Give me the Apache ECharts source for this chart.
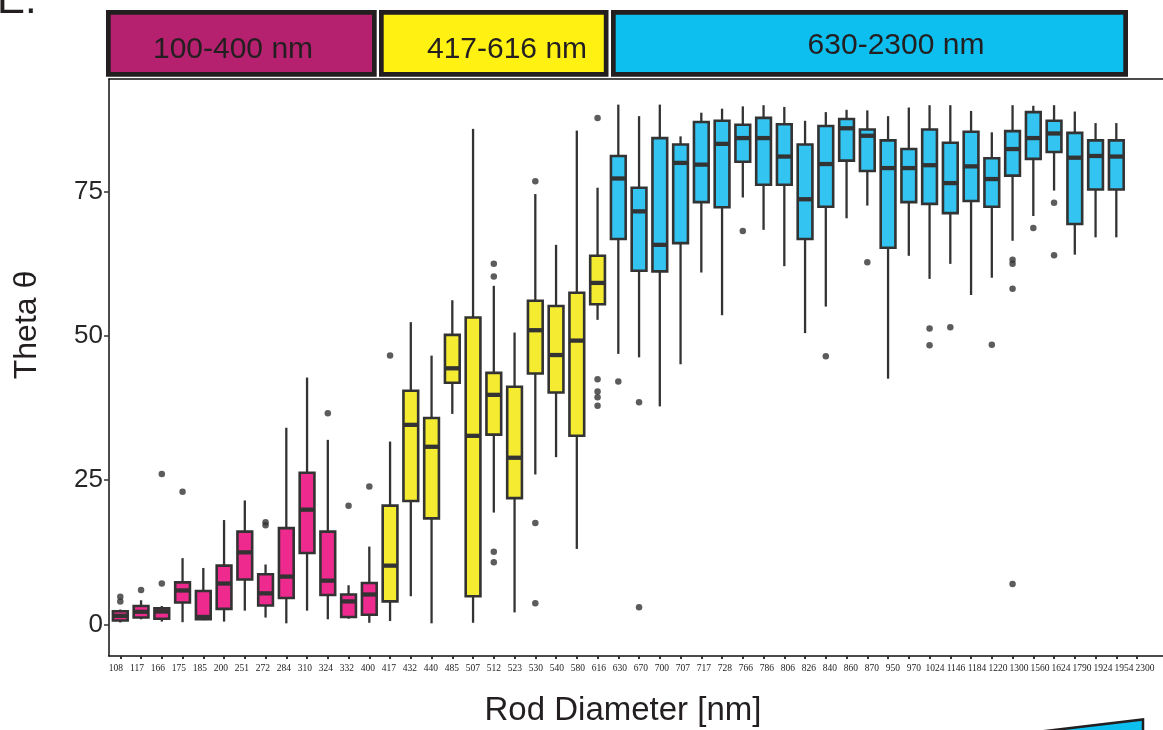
<!DOCTYPE html>
<html>
<head>
<meta charset="utf-8">
<script src="https://cdn.jsdelivr.net/npm/echarts@6/dist/echarts.min.js"></script>
<style>
html,body{margin:0;padding:0;background:#fff;}
#chart{width:1163px;height:730px;}
</style>
</head>
<body>
<div id="chart"></div>
<script>
// ---- data ----
const categories = ['108','117','166','175','185','200','251','272','284','310','324','332','400',
  '417','432','440','485','507','512','523','530','540','580','616',
  '630','670','700','707','717','728','766','786','806','826','840','860','870','950','970',
  '1024','1146','1184','1220','1300','1560','1624','1790','1924','1954','2300'];

const lowWhisker = [0.35,0.9,0.5,0.4,0.75,0.5,2.4,1.2,0.2,2.4,0.9,1.0,0.3,
  0.6,4.9,0.2,36.5,0.3,19.4,2.1,26.0,29.0,13.1,52.8,
  46.9,46.3,37.8,45.1,61.0,53.6,74.0,68.4,62.1,50.5,55.1,70.4,72.6,42.6,63.9,
  59.9,62.5,57.1,60.1,66.5,70.8,75.2,64.1,67.1,67.1,null];
const q1 = [0.7,1.2,1.0,3.8,0.9,2.7,7.8,3.3,4.6,12.4,5.1,1.3,1.7,
  4.0,21.4,18.4,41.9,4.9,32.9,21.9,43.5,40.2,32.7,55.5,
  66.8,61.3,61.2,66.1,73.2,72.3,80.2,76.2,76.2,66.8,72.4,80.4,78.6,65.3,73.2,
  72.9,71.3,73.4,72.4,77.8,80.7,81.9,69.4,75.4,75.4,null];
const median = [1.5,2.2,2.25,5.9,1.3,7.1,12.5,5.4,8.3,19.9,7.6,4.0,5.2,
  10.2,34.6,30.8,44.4,32.7,39.8,28.9,51.0,46.7,49.2,59.2,
  77.3,71.6,65.8,80.0,79.7,83.3,84.3,84.3,81.1,73.7,79.8,86.0,84.7,79.1,79.1,
  79.6,76.5,79.4,77.2,82.4,84.3,85.1,80.9,81.2,81.1,null];
const q3 = [2.3,3.2,2.8,7.3,5.8,10.2,16.1,8.7,16.7,26.3,16.1,5.2,7.2,
  20.6,40.5,35.8,50.2,53.2,43.6,41.2,56.1,55.2,57.5,63.9,
  81.2,75.7,84.3,83.2,87.1,87.3,86.6,87.8,86.7,83.2,86.4,87.6,85.8,83.9,82.4,
  85.8,83.5,85.4,80.8,85.5,88.8,87.3,85.2,83.9,83.9,null];
const highWhisker = [2.6,4.2,3.2,11.5,9.8,18.1,21.5,10.4,34.1,42.8,32.0,6.8,13.5,
  31.7,52.4,46.6,56.2,85.9,58.7,50.6,74.6,65.8,85.6,75.7,
  90.1,88.1,90.1,84.6,88.7,89.4,89.8,90.0,89.7,87.3,88.8,89.2,89.1,88.1,89.6,
  90.0,90.0,89.0,85.3,90.0,89.9,90.0,88.9,86.9,86.9,null];

// outliers: [category, value]
const outliers = [
  ['108',4.8],['108',4.0],['117',6.0],['166',26.1],['166',7.1],['175',23.0],
  ['272',17.7],['272',17.2],['324',36.6],['332',20.6],['400',23.9],['417',46.6],
  ['512',62.5],['512',60.3],['512',12.6],['512',10.8],
  ['530',76.8],['530',17.6],['530',3.7],
  ['616',87.8],['616',42.5],['616',40.4],['616',39.4],['616',37.9],
  ['630',42.1],['670',38.5],['670',3.0],['766',68.2],['840',46.5],['870',62.8],
  ['1024',51.3],['1024',48.4],['1146',51.5],['1220',48.5],
  ['1300',63.2],['1300',62.5],['1300',58.2],['1300',7.0],
  ['1560',68.7],['1624',73.1],['1624',64.0]
];
const yTicks = [0,25,50,75];
const groups = [
  {label:'100-400 nm', maxDiameter:400},
  {label:'417-616 nm', maxDiameter:616},
  {label:'630-2300 nm', maxDiameter:Infinity}
];

// ---- styling ----
const boxFills = ['#EE2A8F','#F5EC32','#33C4F2'];
const bannerFills = ['#B5206F','#FFF212','#0DBFEF'];
const dark = '#333333';
const font = "'Liberation Sans', Arial, Helvetica, sans-serif";

function groupIndex(cat){
  const d = Number(cat);
  for (let g=0; g<groups.length; g++) if (d <= groups[g].maxDiameter) return g;
  return groups.length-1;
}

const boxData = [];
categories.forEach((c,i)=>{
  if (median[i] == null) return;
  boxData.push([i, lowWhisker[i], q1[i], median[i], q3[i], highWhisker[i]]);
});
const outlierData = outliers.map(o => [categories.indexOf(o[0]), o[1]]);
const catIdx = categories.map((c,i)=>i);

const chart = echarts.init(document.getElementById('chart'), null, {renderer:'canvas'});

function renderBox(params, api){
  const i = api.value(0);
  const lo = api.coord([i, api.value(1)]);
  const b1 = api.coord([i, api.value(2)]);
  const md = api.coord([i, api.value(3)]);
  const b3 = api.coord([i, api.value(4)]);
  const hi = api.coord([i, api.value(5)]);
  const unit = api.size([1,0])[0];
  const w = unit*0.71;
  const x = lo[0];
  const fill = boxFills[groupIndex(categories[i])];
  return {
    type:'group',
    children:[
      {type:'line', shape:{x1:x,y1:hi[1],x2:x,y2:b3[1]}, style:{stroke:dark,lineWidth:2.3}},
      {type:'line', shape:{x1:x,y1:b1[1],x2:x,y2:lo[1]}, style:{stroke:dark,lineWidth:2.3}},
      {type:'rect', shape:{x:x-w/2,y:b3[1],width:w,height:b1[1]-b3[1]}, style:{fill:fill,stroke:dark,lineWidth:2.6}},
      {type:'line', shape:{x1:x-w/2,y1:md[1],x2:x+w/2,y2:md[1]}, style:{stroke:dark,lineWidth:4.3}}
    ]
  };
}

// banners (strip)
const bannerBoxes = [
  {x0:106, x1:376.7, tx:233, ty:50},
  {x0:379, x1:608.5, tx:507, ty:50},
  {x0:611, x1:1128, tx:896, ty:46}
];
const graphics = [];
groups.forEach((g,k)=>{
  const bb = bannerBoxes[k];
  graphics.push({type:'rect', shape:{x:bb.x0+2.35, y:12.35, width:bb.x1-bb.x0-4.7, height:62}, style:{fill:bannerFills[k], stroke:'#231F20', lineWidth:4.7}, z:10});
  graphics.push({type:'text', x:bb.tx, y:bb.ty, style:{text:g.label, fill:'#231F20', font:'30px '+font, textAlign:'center', textVerticalAlign:'middle'}, z:11});
});
graphics.push({type:'text', x:-3, y:22, style:{text:'E.', fill:'#231F20', font:'42px '+font, textAlign:'left', textVerticalAlign:'bottom'}, z:11});
graphics.push({type:'text', x:623, y:711, style:{text:'Rod Diameter [nm]', fill:'#231F20', font:'33px '+font, textAlign:'center', textVerticalAlign:'middle'}, z:11});
graphics.push({type:'text', x:27, y:325, rotation:Math.PI/2, style:{text:'Theta θ', fill:'#231F20', font:'32px '+font, textAlign:'center', textVerticalAlign:'middle'}, z:11});
graphics.push({type:'polygon', shape:{points:[[1037,732],[1143,719.5],[1143,732]]}, style:{fill:'#0DBFEF', stroke:'#231F20', lineWidth:2.5}, z:11});

const xMin = -0.545, xMax = 50.25;
// labels in the reference are typeset on a slightly wider pitch than the ticks
const labelMin = -0.333, labelMax = 49.86;
chart.setOption({
  animation:false,
  backgroundColor:'#ffffff',
  grid:{left:109, right:0, top:79, bottom:74, containLabel:false},
  xAxis:[{
    type:'value', min:xMin, max:xMax, position:'bottom',
    axisLine:{show:true, onZero:false, lineStyle:{color:'#111', width:1.5}},
    axisTick:{show:true, customValues:catIdx, length:3, lineStyle:{color:dark, width:2}},
    axisLabel:{show:false},
    splitLine:{show:false}
  },{
    type:'value', min:xMin, max:xMax, position:'top',
    axisLine:{show:true, onZero:false, lineStyle:{color:'#111', width:1.5}},
    axisTick:{show:false}, axisLabel:{show:false}, splitLine:{show:false}
  },{
    type:'value', min:labelMin, max:labelMax, position:'bottom', offset:0,
    axisLine:{show:false}, axisTick:{show:false}, splitLine:{show:false},
    axisLabel:{show:true, customValues:catIdx, formatter:v=>categories[Math.round(v)], fontFamily:"'Liberation Serif', 'Times New Roman', serif", fontSize:9.5, color:'#222', margin:7}
  }],
  yAxis:{
    type:'value', min:-5.46, max:94.54,
    axisLine:{show:true, onZero:false, lineStyle:{color:'#111', width:1.5}},
    axisTick:{show:true, customValues:yTicks, length:5, lineStyle:{color:dark, width:1.5}},
    axisLabel:{show:true, customValues:yTicks, fontFamily:font, fontSize:26, color:'#262626', margin:6},
    splitLine:{show:false}
  },
  series:[{
    type:'custom', renderItem:renderBox, data:boxData, xAxisIndex:0,
    encode:{x:0, y:[1,2,3,4,5]}, z:2, clip:false
  },{
    type:'scatter', data:outlierData, symbol:'circle', symbolSize:6.5, xAxisIndex:0,
    itemStyle:{color:dark}, z:3
  }],
  graphic:graphics
});
</script>
</body>
</html>
